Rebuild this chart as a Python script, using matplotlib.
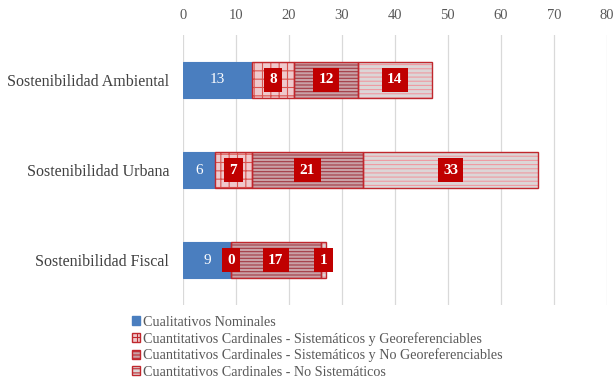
import matplotlib.pyplot as plt
import matplotlib as mpl
from matplotlib.patches import Patch
import numpy as np

plt.rcParams['font.family'] = ['Liberation Serif', 'DejaVu Serif']
mpl.rcParams['hatch.linewidth'] = 0.8

categories = ['Sostenibilidad Ambiental', 'Sostenibilidad Urbana', 'Sostenibilidad Fiscal']
series_names = ['Cualitativos Nominales',
                'Cuantitativos Cardinales - Sistemáticos y Georeferenciables',
                'Cuantitativos Cardinales - Sistemáticos y No Georeferenciables',
                'Cuantitativos Cardinales - No Sistemáticos']
nominales = [13, 6, 9]
sist_geo = [8, 7, 0]
sist_no_geo = [12, 21, 17]
no_sist = [14, 33, 1]
x_ticks = [0, 10, 20, 30, 40, 50, 60, 70, 80]

series = [nominales, sist_geo, sist_no_geo, no_sist]
faces = ['#4a7ebf', '#efc9cc', '#c9a1a6', '#dcd6d7']
hatch_cols = [None, '#d9534f', '#a33a44', '#ef9aa2']
hatches = [None, '++', '-----', '----']

fig = plt.figure(figsize=(6.15, 3.8), dpi=100)
ax = fig.add_axes([0.2976, 0.197, 0.689, 0.711])

y = np.arange(len(categories))
left = np.zeros(len(categories))
for i, vals in enumerate(series):
    vals = np.array(vals, dtype=float)
    if i == 0:
        bars = ax.barh(y, vals, left=left, height=0.4, color=faces[i],
                       edgecolor=faces[i], linewidth=0.8, zorder=2)
    else:
        ax.barh(y, vals, left=left, height=0.4, color=faces[i],
                edgecolor=hatch_cols[i], hatch=hatches[i], linewidth=0, zorder=2)
        bars = ax.barh(y, vals, left=left, height=0.4, color='none',
                       edgecolor='#c0272d', linewidth=1.0, zorder=3)
    for b, v in zip(bars, vals):
        cx = b.get_x() + b.get_width() / 2
        cy = b.get_y() + b.get_height() / 2
        if i == 0:
            ax.text(cx, cy, f'{int(v)}', ha='center', va='center',
                    color='white', fontsize=11, zorder=5)
        else:
            ax.text(cx, cy, f'{int(v)}', ha='center', va='center',
                    color='white', fontsize=11, fontweight='bold', zorder=5,
                    bbox=dict(boxstyle='square,pad=0.35', fc='#c00000', ec='none'))
    left += vals

ax.set_xlim(0, 80)
ax.set_ylim(2.5, -0.5)
ax.set_xticks(x_ticks)
ax.xaxis.tick_top()
ax.set_yticks(y)
ax.set_yticklabels(categories, fontsize=11.5, color='#404040')
ax.tick_params(axis='x', labelsize=10.5, colors='#595959', length=0, pad=9)
ax.tick_params(axis='y', length=0, pad=10)
ax.grid(axis='x', color='#d9d9d9', linewidth=0.9, zorder=0)
ax.set_axisbelow(True)
for s in ax.spines.values():
    s.set_visible(False)

handles = [Patch(facecolor=faces[0], edgecolor=faces[0])]
for i in range(1, 4):
    handles.append(Patch(facecolor=faces[i], edgecolor='#c0272d', hatch=hatches[i]))
fig.legend(handles, series_names, loc='upper left', bbox_to_anchor=(0.203, 0.188),
           frameon=False, fontsize=10.2, labelcolor='#595959', handlelength=0.6,
           handleheight=0.6, handletextpad=0.2, labelspacing=0.22, borderpad=0)

fig.savefig('out.png', dpi=100)
